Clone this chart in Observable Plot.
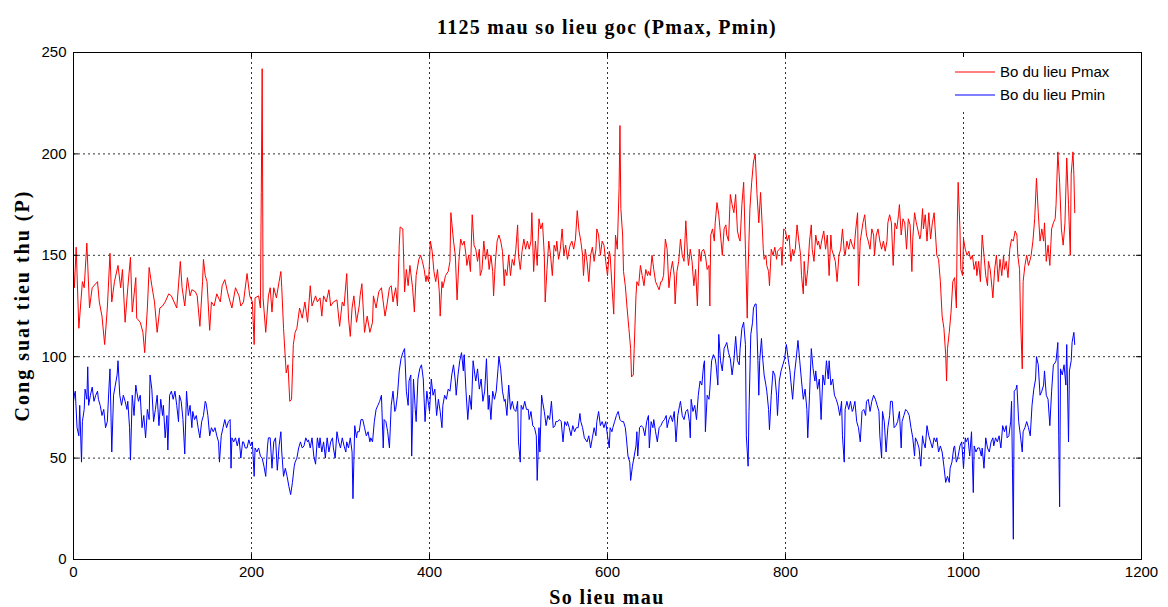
<!DOCTYPE html>
<html><head><meta charset="utf-8">
<script src="https://cdn.jsdelivr.net/npm/d3@7"></script>
<script src="https://cdn.jsdelivr.net/npm/@observablehq/plot@0.6"></script>
<style>body{margin:0;background:#fff}svg{display:block}</style>
</head><body><div id="chart"></div>
<script>
const titleText = "1125 mau so lieu goc (Pmax, Pmin)";
const xLabel = "So lieu mau";
const yLabel = "Cong suat tieu thu (P)";
const seriesNames = ["Bo du lieu Pmax", "Bo du lieu Pmin"];
const seriesColors = ["#ff0000", "#0000ff"];
const xTicks = [0, 200, 400, 600, 800, 1000, 1200];
const yTicks = [0, 50, 100, 150, 200, 250];

// [sample index, value]
const pmax = [
[0,142],[1,134],[3,154],[6,114],[10,137],[12,134],[15,156],[18,124],[21,134],[27,137],[29,127],[32,120],[35,106],[38,124],[41,151],[43,127],[46,137],[50,145],[53,134],[55,143],[58,117],[61,134],[64,149],[66,122],[70,139],[71,119],[75,117],[78,112],[80,102],[83,124],[85,144],[88,135],[91,127],[94,112],[97,124],[100,125],[103,127],[107,131],[110,130],[113,127],[116,124],[120,147],[122,134],[125,125],[128,139],[131,130],[133,133],[137,132],[139,130],[142,115],[145,137],[146,148],[148,140],[150,137],[153,113],[155,127],[158,125],[161,131],[165,127],[167,135],[170,138],[173,132],[176,127],[178,124],[182,134],[186,130],[188,125],[191,127],
[195,141],[198,130],[201,127],[203,106],[204,129],[208,130],[210,124],[211,181],[212,242],[213,129],[216,112],[219,130],[221,134],[223,122],[225,134],[228,129],[231,137],[233,142],[234,134],[236,114],[239,92],[241,96],[243,78],[245,79],[247,106],[249,112],[251,114],[254,124],[257,119],[260,127],[263,117],[266,135],[268,125],[272,130],[274,127],[277,129],[279,120],[281,130],[284,127],[287,133],[289,125],[292,127],[296,128],[299,115],[302,127],[304,125],[307,141],[309,119],[311,110],[313,124],[315,130],[318,117],[321,125],[322,130],[324,136],[327,112],[330,120],[333,112],[336,117],[337,130],[340,124],[343,132],[346,134],[348,127],[350,120],[352,125],[355,134],[357,135],[359,127],[362,134],[364,125],[366,155],[367,164],[370,163],[372,132],[374,143],[376,135],[378,145],
[381,134],[383,122],[385,140],[388,148],[390,150],[392,147],[394,143],[396,137],[397,140],[399,137],[401,157],[403,152],[405,142],[407,137],[409,143],[411,132],[412,120],[414,137],[415,134],[418,140],[421,142],[423,147],[424,171],[427,157],[429,150],[431,128],[433,147],[435,158],[437,155],[439,157],[441,150],[442,145],[444,150],[446,142],[448,170],[450,155],[452,153],[454,147],[456,153],[457,140],[459,143],[461,157],[463,148],[465,153],[467,143],[469,150],[471,142],[472,130],[474,147],[476,157],[478,160],[480,157],[482,152],[484,135],[485,143],[487,140],[489,150],[491,140],[493,148],[495,145],[497,153],[499,165],[500,150],[502,143],[504,152],[506,158],[508,153],[510,157],[512,153],[514,157],[515,171],[517,142],[519,157],[521,145],[523,168],[525,163],[527,166],[529,150],[530,127],[532,143],[534,157],[536,150],[538,140],[540,155],[542,152],[543,157],[545,148],[547,153],[549,163],[551,150],[553,155],[555,148],[557,153],[558,155],[560,157],[562,153],[564,158],[566,172],[568,162],[570,157],[572,150],[573,140],[575,153],
[577,147],[579,137],[581,150],[583,154],[585,147],[587,153],[588,163],[590,160],[592,150],[594,157],[596,155],[598,147],[600,140],[602,152],[603,150],[605,135],[607,121],[609,160],[611,153],[613,183],[614,214],[615,173],[617,160],[618,142],[620,135],[622,124],[624,114],[626,104],[627,90],[629,91],[630,104],[632,130],[633,137],[635,135],[637,145],[639,140],[641,135],[643,143],[645,140],[646,142],[648,140],[650,150],[652,143],[654,137],[656,135],[658,133],[660,137],[661,137],[663,140],[665,158],[667,153],[669,134],[671,142],[673,147],[675,140],[676,126],[678,142],[680,147],[682,158],[684,150],[686,147],[688,167],[690,150],[691,145],[693,153],[695,147],[697,135],[699,143],[701,125],[703,153],[705,147],[706,152],[708,153],[710,150],[712,143],[714,145],[715,125],[716,160],[718,163],[720,157],[721,166],[723,176],[725,170],[727,160],[729,150],[731,163],[733,165],[734,160],[736,157],[738,180],[740,175],[742,171],[744,180],[746,162],[748,158],[749,157],[751,175],[753,186],[755,153],[757,119],[758,143],[760,173],[762,186],[764,196],[766,200],
[768,180],[770,166],[772,181],[774,163],[775,153],[776,148],[778,150],[779,145],[781,142],[782,135],[784,153],[786,150],[788,154],[790,148],[791,152],[793,153],[795,154],[796,145],[798,163],[800,162],[802,157],[804,160],[806,147],[808,153],[809,150],[811,153],[813,165],[815,157],[817,150],[818,140],[820,131],[821,147],[823,135],[825,143],[827,157],[829,165],[830,153],[832,147],[834,160],[836,155],[837,157],[839,153],[841,158],[843,162],[845,153],[847,160],[849,140],[851,160],[852,153],[854,150],[856,147],[858,137],[860,150],[862,153],[864,163],[866,152],[867,150],[869,157],[871,153],[873,158],[875,155],[877,153],[879,163],[881,171],[882,135],[884,157],[885,160],[887,166],[889,170],[891,160],[893,157],[895,153],[897,163],[899,160],[900,150],[902,160],[904,163],[906,157],[908,153],[910,157],[912,152],[914,157],[915,166],[917,170],[919,166],[921,145],[923,166],[925,163],[927,170],[928,175],[930,160],[932,168],[934,166],[936,153],[938,168],[940,165],[942,142],[943,158],[945,171],[947,166],[949,162],[951,158],
[952,160],[954,173],[955,163],[957,170],[959,157],[961,171],[963,158],[965,166],[967,171],[969,157],[970,150],[972,148],[974,137],[976,120],[978,114],[980,101],[981,88],[982,104],[984,112],[986,122],[988,137],[990,139],[992,124],[993,165],[994,186],[996,163],[997,143],[999,140],[1000,158],[1002,153],[1004,150],[1006,152],[1008,148],[1010,150],[1012,143],[1014,147],[1015,140],[1017,147],[1019,137],[1021,160],[1023,150],[1025,140],[1027,135],[1028,147],[1030,143],[1032,134],[1033,129],[1035,143],[1037,150],[1039,137],[1041,148],[1043,140],[1045,150],[1046,143],[1048,147],[1050,139],[1052,153],[1054,158],[1056,157],[1058,162],[1060,160],[1061,150],[1063,143],[1064,120],[1066,94],[1067,137],[1069,145],[1071,150],[1073,145],[1075,148],[1076,150],[1078,157],[1080,168],[1082,188],[1084,171],[1086,157],[1088,163],[1090,157],[1091,166],[1093,147],[1095,155],[1097,145],[1099,163],[1101,166],[1103,168],[1104,175],[1106,201],[1108,186],[1110,163],[1112,155],[1114,166],[1116,198],[1118,175],[1120,150],[1121,190],[1123,201],[1124,190],[1125,171]
];

const pmin = [
[0,78],[1,81],[2,83],[4,65],[6,61],[7,76],[9,48],[10,68],[12,74],[13,84],[15,79],[16,95],[17,76],[19,81],[21,85],[23,78],[25,81],[27,83],[28,79],[30,76],[32,71],[34,74],[36,65],[38,68],[40,86],[41,94],[43,53],[45,81],[47,86],[49,91],[50,98],[52,81],[54,76],[56,81],[58,78],[60,74],[61,78],[63,65],[64,49],[66,81],[68,71],[70,86],[71,83],[73,78],[75,81],[77,65],[79,71],[81,60],[83,74],[85,69],[86,91],[88,84],[90,68],[92,74],[94,81],[96,66],[98,79],[100,71],[101,76],[103,60],[105,71],[106,54],[108,81],[110,83],[112,79],[114,83],[116,76],[118,68],[119,81],[121,78],[123,69],[125,52],[127,83],[129,71],[131,76],[133,65],[134,73],[136,69],[138,71],[140,65],[142,60],[144,68],[146,71],[148,78],[149,77],[151,71],[153,61],[155,65],[157,63],[159,65],[161,61],[163,58],[164,48],[166,61],[168,65],[170,69],[172,65],[174,68],[176,69],[177,45],[178,60],[180,58],[182,60],[184,56],[186,60],[188,50],[190,58],[191,58],[193,55],
[195,55],[197,59],[199,56],[201,58],[203,41],[204,55],[206,53],[208,55],[210,51],[212,50],[214,46],[216,41],[218,56],[219,60],[221,60],[223,45],[225,58],[227,60],[229,44],[231,56],[233,63],[234,53],[236,41],[238,45],[240,41],[242,36],[244,32],[246,38],[248,46],[249,48],[251,50],[253,55],[255,58],[257,55],[259,56],[261,60],[263,58],[264,59],[266,55],[268,60],[270,51],[272,47],[274,60],[276,55],[277,60],[279,53],[281,58],[283,50],[285,60],[287,53],[289,58],[291,60],[292,55],[294,50],[296,63],[298,58],[300,55],[302,60],[304,56],[306,53],[307,58],[309,55],[311,60],[313,53],[314,30],[316,66],[318,60],[319,63],[321,63],[323,69],[325,69],[327,65],[329,61],[331,63],[333,58],[334,60],[336,58],[338,68],[340,74],[342,76],[344,78],[346,81],[348,55],[349,69],[351,68],[353,63],[355,55],[357,76],[359,83],[361,73],[362,74],[364,81],[366,93],[368,99],[370,102],[372,104],[374,83],[376,76],[377,88],[379,91],[380,51],[382,89],[384,74],
[385,68],[387,89],[389,94],[391,96],[393,89],[395,68],[397,83],[399,76],[400,73],[402,89],[404,81],[406,84],[408,71],[410,79],[412,73],[414,65],[415,76],[417,81],[419,79],[421,84],[423,83],[425,91],[427,96],[429,88],[430,81],[432,91],[434,98],[436,102],[438,93],[439,101],[441,83],[443,69],[445,81],[447,74],[449,98],[451,91],[452,88],[454,94],[456,84],[458,89],[460,78],[462,83],[464,99],[466,74],[467,81],[469,69],[471,83],[473,79],[475,83],[477,94],[478,100],[480,94],[482,83],[484,78],[485,79],[487,71],[489,86],[491,74],[493,78],[495,74],[497,73],[499,78],[500,58],[502,48],[503,76],[505,74],[507,78],[509,74],[511,74],[512,69],[514,73],[516,66],[518,65],[520,61],[521,39],[523,65],[524,53],[526,81],[527,78],[529,73],[531,66],[533,71],[535,69],[537,78],[539,65],[541,66],[542,68],[544,68],[546,69],[548,68],[550,58],[552,68],[554,66],[555,68],[557,65],[559,61],[561,66],[563,63],[565,65],[567,65],[569,72],[570,68],[572,65],[574,60],
[577,58],[579,61],[581,55],[583,60],[585,65],[587,61],[588,68],[590,73],[592,66],[594,68],[596,65],[598,68],[600,61],[602,55],[603,65],[605,63],[606,65],[608,68],[610,71],[612,73],[614,69],[616,68],[618,68],[620,65],[621,61],[623,51],[625,48],[626,39],[628,46],[630,51],[632,56],[633,63],[634,51],[636,65],[638,66],[640,65],[642,61],[644,68],[646,71],[647,55],[649,68],[651,65],[652,69],[654,63],[656,58],[658,65],[660,66],[662,68],[664,69],[666,71],[667,65],[669,69],[671,71],[673,68],[675,73],[677,58],[679,71],[681,76],[682,78],[684,71],[686,69],[688,73],[690,74],[692,68],[693,60],[694,79],[696,73],[698,76],[700,69],[702,81],[704,88],[706,86],[708,96],[709,98],[710,63],[712,81],[714,79],[715,84],[717,98],[719,101],[721,99],[722,96],[724,86],[725,111],[727,98],[729,93],[731,104],[733,106],[734,107],[736,102],[738,99],[740,91],[742,98],[744,110],[746,98],[748,96],[749,104],[751,114],[753,117],[755,106],[756,61],[758,46],[759,73],[761,111],[763,117],[764,124],
[766,126],[767,126],[769,98],[770,81],[771,98],[773,109],[774,101],[776,91],[778,86],[779,83],[781,74],[782,64],[784,81],[786,93],[788,91],[790,81],[791,71],[793,88],[795,93],[797,96],[799,99],[801,106],[803,99],[805,93],[806,88],[808,79],[810,91],[812,99],[814,108],[816,98],[818,88],[820,79],[822,84],[824,74],[825,60],[827,81],[829,104],[831,94],[833,88],[834,93],[836,84],[838,89],[840,69],[842,91],[844,86],[846,98],[848,89],[849,98],[851,86],[853,89],[855,81],[857,79],[859,76],[861,71],[863,78],[864,61],[866,48],[867,74],[869,78],[871,74],[873,78],[875,73],[876,74],[878,78],[880,68],[882,65],[884,58],[886,73],[888,74],[890,71],[891,78],[893,79],[895,73],[897,78],[899,81],[901,79],[903,76],[905,73],[906,61],[908,50],[909,73],[911,68],[913,53],[915,65],[917,71],[918,78],[920,78],[922,65],[924,66],[926,68],[928,73],[930,55],[931,68],[933,71],[935,74],[937,73],[939,71],[941,65],[943,60],[945,51],[946,60],[948,58],[950,55],[952,46],
[954,61],[955,58],[957,55],[959,66],[961,61],[963,58],[965,55],[967,60],[969,58],[970,60],[972,53],[974,56],[976,53],[978,46],[980,38],[982,41],[984,38],[985,45],[987,48],[989,55],[990,56],[992,48],[994,51],[996,56],[998,58],[1000,45],[1002,60],[1003,58],[1005,60],[1007,51],[1009,63],[1011,33],[1012,56],[1014,53],[1016,55],[1018,55],[1020,51],[1021,55],[1023,45],[1025,60],[1027,55],[1029,53],[1031,58],[1033,60],[1034,56],[1036,60],[1038,58],[1040,61],[1042,55],[1044,66],[1046,63],[1048,66],[1049,60],[1051,61],[1053,68],[1054,78],[1055,45],[1056,10],[1057,83],[1059,84],[1060,86],[1062,68],[1064,61],[1066,53],[1067,63],[1069,65],[1071,68],[1073,65],[1075,61],[1077,76],[1079,84],[1081,89],[1082,100],[1084,96],[1086,81],[1088,83],[1090,86],[1091,93],[1093,81],[1095,79],[1097,66],[1099,83],[1101,96],[1103,97],[1104,98],[1106,107],[1107,61],[1108,26],[1109,94],[1111,91],[1113,96],[1115,86],[1116,106],[1118,58],[1119,93],[1121,98],[1122,107],[1124,112],[1125,106]
];

const rows = [
  ...pmax.map(([i, v]) => ({i, v, s: seriesNames[0]})),
  ...pmin.map(([i, v]) => ({i, v, s: seriesNames[1]}))
];

const W = 1168, H = 607;
const mL = 73, mR = 27, mT = 52, mB = 48;
const xDom = [xTicks[0], xTicks[xTicks.length - 1]];
const yDom = [yTicks[0], yTicks[yTicks.length - 1]];
const tickLenX = (yDom[1] - yDom[0]) * 5 / (H - mT - mB);
const tickLenY = (xDom[1] - xDom[0]) * 5 / (W - mL - mR);
const gridStyle = {stroke: "#000", strokeOpacity: 0.8, strokeDasharray: "2,3"};

const chart = Plot.plot({
  width: W, height: H,
  marginLeft: mL, marginRight: mR, marginTop: mT, marginBottom: mB,
  style: {fontFamily: "'Liberation Sans', Arial, sans-serif", background: "#fff", color: "#000"},
  x: {domain: xDom},
  y: {domain: yDom},
  color: {domain: seriesNames, range: seriesColors},
  marks: [
    Plot.gridX(xTicks.slice(1, -1), gridStyle),
    Plot.gridY(yTicks.slice(1, -1), gridStyle),
    Plot.line(rows, {x: "i", y: "v", z: "s", stroke: "s", strokeWidth: 1, curve: "linear"}),
    Plot.ruleX(xTicks, {y1: yDom[0], y2: yDom[0] + tickLenX, stroke: "#000"}),
    Plot.ruleX(xTicks, {y1: yDom[1] - tickLenX, y2: yDom[1], stroke: "#000"}),
    Plot.ruleY(yTicks, {x1: xDom[0], x2: xDom[0] + tickLenY, stroke: "#000"}),
    Plot.ruleY(yTicks, {x1: xDom[1] - tickLenY, x2: xDom[1], stroke: "#000"}),
    Plot.frame({stroke: "#000"}),
    Plot.axisX(xTicks, {tickSize: 0, tickPadding: 7, tickFormat: d => String(d), fontSize: 15, label: null}),
    Plot.axisY(yTicks, {tickSize: 0, tickPadding: 7, tickFormat: d => String(d), fontSize: 15, label: null})
  ]
});

const svg = d3.select(chart);
const cx = mL + (W - mL - mR) / 2;
const cy = mT + (H - mT - mB) / 2;
const serif = "'Liberation Serif', 'Times New Roman', serif";
svg.append("text").attr("x", cx).attr("y", 34).attr("text-anchor", "middle")
  .attr("font-family", serif).attr("font-weight", "bold").attr("font-size", 20)
  .attr("letter-spacing", "1.3px").text(titleText);
svg.append("text").attr("x", cx).attr("y", 604).attr("text-anchor", "middle")
  .attr("font-family", serif).attr("font-weight", "bold").attr("font-size", 20)
  .attr("letter-spacing", "1.4px").text(xLabel);
svg.append("text").attr("transform", `translate(29,${cy}) rotate(-90)`).attr("text-anchor", "middle")
  .attr("font-family", serif).attr("font-weight", "bold").attr("font-size", 20)
  .attr("letter-spacing", "2px").text(yLabel);

// legend
const lg = svg.append("g");
lg.append("rect").attr("x", 947).attr("y", 57).attr("width", 192).attr("height", 54).attr("fill", "#fff");
seriesNames.forEach((name, k) => {
  const yy = 72 + k * 23;
  lg.append("line").attr("x1", 955).attr("x2", 995).attr("y1", yy).attr("y2", yy)
    .attr("stroke", seriesColors[k]).attr("stroke-width", 1);
  lg.append("text").attr("x", 1000).attr("y", yy).attr("dy", "0.35em").attr("text-anchor", "start")
    .attr("font-family", "'Liberation Sans', Arial, sans-serif").attr("font-size", 15).attr("fill", "#000").text(name);
});

document.getElementById("chart").appendChild(chart);
</script>
</body></html>
